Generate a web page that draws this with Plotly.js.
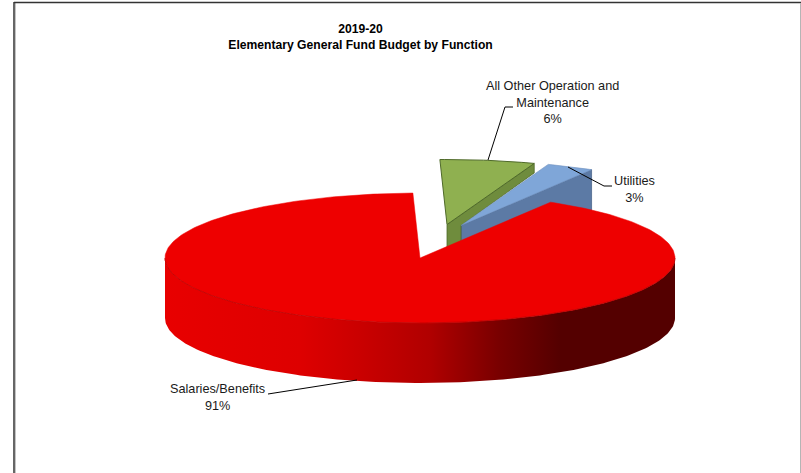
<!DOCTYPE html>
<html>
<head>
<meta charset="utf-8">
<script src="https://cdn.plot.ly/plotly-3.0.1.min.js"></script>
<style>html,body{margin:0;padding:0;background:#fff}#chart{width:801px;height:473px}</style>
</head>
<body>
<div id="chart"></div>
<script>
// Budget shares by function, percent
const categories = ['Salaries/Benefits', 'All Other Operation and<br>Maintenance', 'Utilities'];
const shares = [91, 6, 3];

// Colours of each slice
const topColors = ['#ee0000', '#8fb050', '#7fa6d8'];
const sideColors = [null, '#6f8c3d', '#5c7aa5'];
const edgeColors = ['#b80000', '#4f6a2a', '#4a648c'];

// Pie drawing geometry, in axis units (the axes run one unit per pixel)
const radiusX = 255, radiusY = 65, depth = 60;
const firstSliceStart = 30.8;            // clockwise from twelve o'clock
const apexes = [[420, 258], [447, 224.5], [461, 225.5]];
const greenFaceDrop = 9.5;               // visible thickness of the green cut at the rim

// Shade of the red rim from left to right: [x, red channel]
const rimShadeX = [165, 300, 360, 430, 500, 560, 675];
const rimShadeR = [232, 222, 202, 176, 120, 84, 84];

// Callout labels and their leader lines
const labelX = [217.5, 552, 634];
const labelY = [397, 102, 189.5];
const leaderX = [[357, 275, 268], [488, 505, 513], [568, 604, 612]];
const leaderY = [[380, 393, 394], [160, 107, 107], [167, 186, 186]];

const rad = d => d * Math.PI / 180;
const rim = (apex, t) => [apex[0] + radiusX * Math.sin(rad(t)), apex[1] - radiusY * Math.cos(rad(t))];
function arc(apex, from, to) {
  const pts = [], n = Math.max(2, Math.ceil(Math.abs(to - from)));
  for (let i = 0; i <= n; i++) pts.push(rim(apex, from + (to - from) * i / n));
  return pts;
}
const poly = (pts, fill, line, width) => ({
  type: 'scatter', mode: 'lines', x: pts.map(p => p[0]), y: pts.map(p => p[1]),
  fill: 'toself', fillcolor: fill,
  line: {color: line || fill, width: width === undefined ? 1 : width},
  hoverinfo: 'skip', showlegend: false
});
const path = (xs, ys, color, width) => ({
  type: 'scatter', mode: 'lines', x: xs, y: ys,
  line: {color: color, width: width}, hoverinfo: 'skip', showlegend: false
});

// Slice extents from the shares
const total = shares.reduce((a, b) => a + b, 0);
const spans = [];
let cursor = firstSliceStart;
shares.forEach(v => { const s = v / total * 360; spans.push([cursor, cursor + s]); cursor += s; });

const traces = [];
const drop = (p, d) => [p[0], p[1] + d];

// Utilities: cut face
const blue = spans[2], blueApex = apexes[2];
const blueEnd = rim(blueApex, blue[1]);
traces.push(poly([blueApex, blueEnd, drop(blueEnd, depth), drop(blueApex, depth), blueApex], sideColors[2], edgeColors[2], 0.8));

// All other operation: the cut face stops where the utilities wedge begins
const green = spans[1], greenApex = apexes[1];
const greenEnd = rim(greenApex, green[1]);
traces.push(poly([greenApex, greenEnd, drop(greenEnd, greenFaceDrop), blueApex, drop(blueApex, depth),
                  drop(greenApex, depth), greenApex], sideColors[1], edgeColors[1], 0.8));
traces.push(poly([greenApex].concat(arc(greenApex, green[0], green[1])).concat([greenApex]), topColors[1], edgeColors[1], 1));

// Utilities: top
traces.push(poly([blueApex].concat(arc(blueApex, blue[0], blue[1])).concat([blueApex]), topColors[2], '#6d8fbd', 0.6));

// Salaries: front wall with a left-to-right shade, then the top face
const red = spans[0], redApex = apexes[0];
const wallTop = arc(redApex, 90, 270);
const wallBottom = wallTop.map(p => drop(p, depth)).reverse();
const wall = poly(wallTop.concat(wallBottom).concat([wallTop[0]]), '#aa0000', 'rgba(0,0,0,0)', 0);
const x0 = rimShadeX[0], x1 = rimShadeX[rimShadeX.length - 1];
wall.fillgradient = {
  type: 'horizontal', start: x0, stop: x1,
  colorscale: rimShadeX.map((x, i) => [(x - x0) / (x1 - x0), 'rgb(' + rimShadeR[i] + ',0,0)'])
};
traces.push(wall);
traces.push(poly([redApex].concat(arc(redApex, red[0], red[1])).concat([redApex]), topColors[0], topColors[0], 0.5));
traces.push(path(wallTop.map(p => p[0]), wallTop.map(p => p[1]), edgeColors[0], 0.8));

// Leader lines
leaderX.forEach((xs, i) => traces.push(path(xs, leaderY[i], '#000000', 1)));

// Callouts, each holding its category name and share
const annotations = categories.map((name, i) => ({
  x: labelX[i], y: labelY[i], xref: 'x', yref: 'y', xanchor: 'center', yanchor: 'middle',
  text: name + '<br>' + shares[i] + '%', showarrow: false, align: 'center',
  font: {family: 'Liberation Sans, Arial, sans-serif', size: 12.7, color: '#1a1a1a'}
}));

// Chart frame edges
const shapes = [
  {type: 'line', xref: 'x', yref: 'y', x0: 14, x1: 14, y0: 2, y1: 473, line: {color: '#333333', width: 1.5}},
  {type: 'line', xref: 'x', yref: 'y', x0: 15.5, x1: 15.5, y0: 3, y1: 473, line: {color: '#c4c4c4', width: 1}},
  {type: 'line', xref: 'x', yref: 'y', x0: 14, x1: 801, y0: 2.5, y1: 2.5, line: {color: '#333333', width: 1.5}},
  {type: 'line', xref: 'x', yref: 'y', x0: 800.5, x1: 800.5, y0: 3, y1: 473, line: {color: '#b5b5b5', width: 1}}
];

const hiddenAxis = {visible: false, fixedrange: true};
const layout = {
  width: 801, height: 473, margin: {l: 0, r: 0, t: 0, b: 0},
  paper_bgcolor: '#ffffff', plot_bgcolor: '#ffffff', showlegend: false,
  title: {
    text: '<b>2019-20</b><br><b>Elementary General Fund Budget by Function</b>',
    x: 360.5 / 801, xanchor: 'center', xref: 'paper', y: 1 - 33 / 473, yanchor: 'middle', yref: 'container',
    font: {family: 'Liberation Sans, Arial, sans-serif', size: 12.15, color: '#000000'}
  },
  xaxis: Object.assign({range: [0, 801]}, hiddenAxis),
  yaxis: Object.assign({range: [473, 0]}, hiddenAxis),
  annotations: annotations, shapes: shapes
};
Plotly.newPlot('chart', traces, layout, {displayModeBar: false, staticPlot: true});
</script>
</body>
</html>
